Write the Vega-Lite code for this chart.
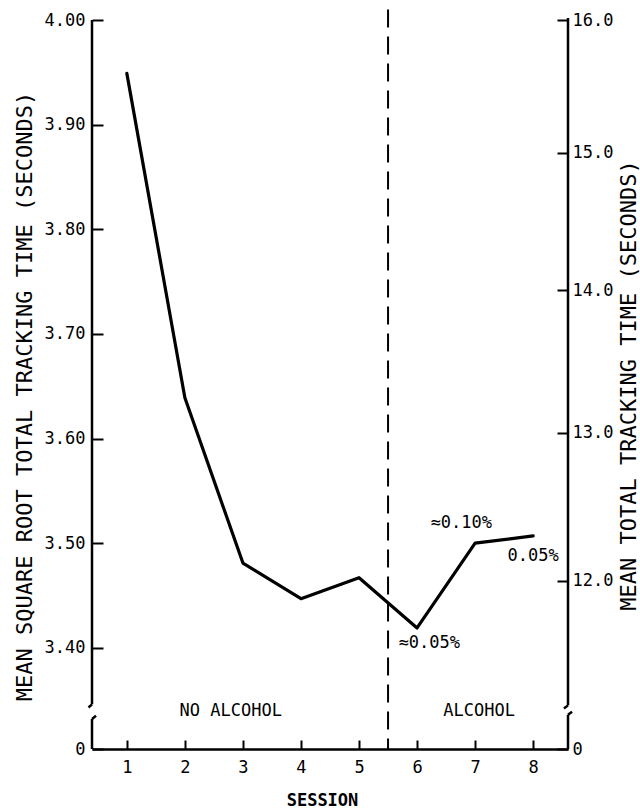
{
  "$schema": "https://vega.github.io/schema/vega-lite/v6.json",
  "autosize": {"type": "none"},
  "width": 476,
  "height": 729,
  "padding": {"left": 92, "top": 20, "right": 72, "bottom": 63},
  "background": "white",
  "config": {
    "view": {"stroke": null},
    "font": "DejaVu Sans Mono",
    "axis": {"grid": false, "labelFont": "DejaVu Sans Mono", "titleFont": "DejaVu Sans Mono", "labelColor": "black", "titleColor": "black", "tickColor": "black", "domainColor": "black", "labelFontSize": 17, "titleFontWeight": "normal"}
  },
  "datasets": {
    "tracking": [
      {"session": 1, "sqrt_time": 3.949},
      {"session": 2, "sqrt_time": 3.639},
      {"session": 3, "sqrt_time": 3.481},
      {"session": 4, "sqrt_time": 3.447},
      {"session": 5, "sqrt_time": 3.467},
      {"session": 6, "sqrt_time": 3.419},
      {"session": 7, "sqrt_time": 3.500},
      {"session": 8, "sqrt_time": 3.507}
    ],
    "notes": [
      {"session": 2.79, "sqrt_time": 3.340, "label": "NO ALCOHOL"},
      {"session": 7.07, "sqrt_time": 3.340, "label": "ALCOHOL"},
      {"session": 6.76, "sqrt_time": 3.519, "label": "≈0.10%"},
      {"session": 8.0, "sqrt_time": 3.488, "label": "0.05%"},
      {"session": 6.21, "sqrt_time": 3.405, "label": "≈0.05%"}
    ],
    "frame": [
      {"session": 0.4, "session2": 0.4, "sqrt_time": 3.346, "sqrt_time2": 4.0},
      {"session": 0.4, "session2": 0.34, "sqrt_time": 3.346, "sqrt_time2": 3.343},
      {"session": 0.4, "session2": 0.4, "sqrt_time": 3.3033, "sqrt_time2": 3.332},
      {"session": 0.4, "session2": 0.47, "sqrt_time": 3.332, "sqrt_time2": 3.335},
      {"session": 8.6, "session2": 8.6, "sqrt_time": 3.345, "sqrt_time2": 4.002},
      {"session": 8.6, "session2": 8.53, "sqrt_time": 3.345, "sqrt_time2": 3.342},
      {"session": 8.6, "session2": 8.6, "sqrt_time": 3.3033, "sqrt_time2": 3.336},
      {"session": 8.6, "session2": 8.67, "sqrt_time": 3.336, "sqrt_time2": 3.339}
    ],
    "divider": [
      {"session": 5.5, "sqrt_time": 4.01, "sqrt_time2": 3.3033}
    ]
  },
  "layer": [
    {
      "layer": [
        {
          "data": {"name": "tracking"},
          "mark": {"type": "line", "color": "black", "strokeWidth": 3.2, "strokeJoin": "round", "strokeCap": "round"},
          "encoding": {
            "x": {"field": "session", "type": "quantitative",
              "scale": {"domain": [0.4, 8.6], "nice": false, "zero": false},
              "axis": {"values": [1, 2, 3, 4, 5, 6, 7, 8], "format": "d", "tickSize": -9, "tickWidth": 2, "domainWidth": 2.5, "labelPadding": 19, "title": "SESSION", "titleFontSize": 17, "titleFontWeight": "bold", "titleX": 230, "titleY": 51, "titleBaseline": "middle"}},
            "y": {"field": "sqrt_time", "type": "quantitative",
              "scale": {"domain": [3.3033, 4.0], "nice": false, "zero": false},
              "axis": {"orient": "left", "values": [3.3033, 3.4, 3.5, 3.6, 3.7, 3.8, 3.9, 4.0], "labelExpr": "datum.value < 3.35 ? '0' : format(datum.value, '.2f')", "domain": false, "tickSize": -11, "tickWidth": 2, "labelPadding": 18, "title": "MEAN SQUARE ROOT TOTAL TRACKING TIME (SECONDS)", "titleFontSize": 22, "titleAngle": 270, "titleX": -68, "titleY": 376, "titleBaseline": "middle", "titleAlign": "center"}}
          }
        },
        {
          "data": {"name": "frame"},
          "mark": {"type": "rule", "color": "black", "strokeWidth": 2.5},
          "encoding": {
            "x": {"field": "session", "type": "quantitative", "scale": {"domain": [0.4, 8.6], "nice": false, "zero": false}},
            "x2": {"field": "session2"},
            "y": {"field": "sqrt_time", "type": "quantitative", "scale": {"domain": [3.3033, 4.0], "nice": false, "zero": false}},
            "y2": {"field": "sqrt_time2"}
          }
        },
        {
          "data": {"name": "divider"},
          "mark": {"type": "rule", "color": "black", "strokeWidth": 2, "strokeDash": [18, 9]},
          "encoding": {
            "x": {"field": "session", "type": "quantitative", "scale": {"domain": [0.4, 8.6], "nice": false, "zero": false}},
            "y": {"field": "sqrt_time", "type": "quantitative", "scale": {"domain": [3.3033, 4.0], "nice": false, "zero": false}},
            "y2": {"field": "sqrt_time2"}
          }
        },
        {
          "data": {"name": "notes"},
          "mark": {"type": "text", "color": "black", "font": "DejaVu Sans Mono", "fontSize": 17, "align": "center", "baseline": "middle"},
          "encoding": {
            "x": {"field": "session", "type": "quantitative", "scale": {"domain": [0.4, 8.6], "nice": false, "zero": false}},
            "y": {"field": "sqrt_time", "type": "quantitative", "scale": {"domain": [3.3033, 4.0], "nice": false, "zero": false}},
            "text": {"field": "label"}
          }
        }
      ]
    },
    {
      "data": {"values": [{"total_time": 16}]},
      "mark": {"type": "rule", "opacity": 0},
      "encoding": {
        "y": {"field": "total_time", "type": "quantitative",
          "scale": {"type": "sqrt", "domain": [10.912, 16], "nice": false, "zero": false},
          "axis": {"orient": "right", "values": [10.912, 12, 13, 14, 15, 16], "labelExpr": "datum.value < 11 ? '0' : format(datum.value, '.1f')", "domain": false, "tickSize": -11, "tickWidth": 2, "labelPadding": 15, "title": "MEAN TOTAL TRACKING TIME (SECONDS)", "titleFontSize": 22, "titleAngle": 270, "titleX": 60, "titleY": 365, "titleBaseline": "middle", "titleAlign": "center"}}
      }
    }
  ],
  "resolve": {"scale": {"y": "independent"}, "axis": {"y": "independent"}}
}
